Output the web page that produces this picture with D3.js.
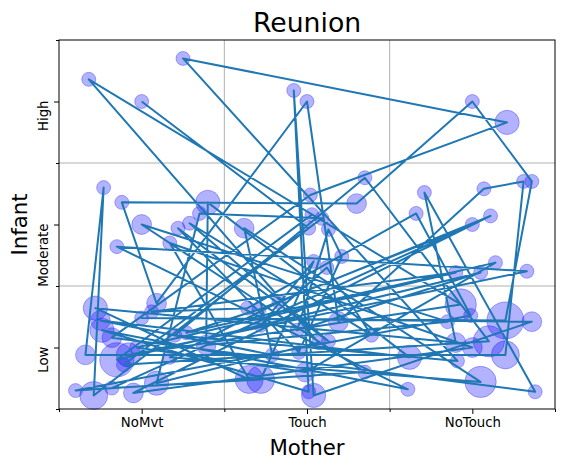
<!DOCTYPE html>
<html>
<head>
<meta charset="utf-8">
<script src="https://cdn.jsdelivr.net/npm/d3@7"></script>
<style>
  body { margin: 0; background: #fff; }
  svg { font-family: "DejaVu Sans", sans-serif; }
</style>
</head>
<body>
<svg id="chart" width="565" height="469"></svg>
<script>
// categories
const motherCats = ["NoMvt", "Touch", "NoTouch"];
const infantCats = ["Low", "Moderate", "High"];

// jittered positions (1 = first category), in visiting order
const motherPos = [1.00, 2.01, 0.71, 0.77, 0.66, 3.20, 3.31, 3.07, 2.19, 2.00,
  1.09, 0.88, 2.30, 3.00, 3.36, 3.20, 1.00, 3.36, 2.04, 1.92,
  2.01, 0.76, 2.61, 0.85, 3.33, 0.92, 2.93, 0.68, 2.07, 1.09,
  1.35, 2.09, 0.89, 3.10, 2.35, 1.20, 2.91, 1.25, 3.21, 2.02,
  0.82, 3.38, 2.71, 2.90, 0.72, 1.65, 1.17, 3.00, 0.95, 3.11,
  1.83, 1.17, 3.05, 1.62, 1.79, 0.75, 2.62, 1.40, 1.39, 2.85,
  1.00, 2.35, 0.60, 2.99, 2.66, 1.64, 1.06, 2.90, 0.97, 1.99,
  3.14, 1.27, 1.71, 3.00, 0.82, 1.72, 2.04, 1.72, 2.12, 2.39,
  1.29, 2.13, 1.22, 1.95, 2.21, 2.13, 1.94, 3.05, 0.85, 2.03];
const infantPos = [3.00, 1.97, 0.61, 2.30, 0.94, 0.94, 2.35, 2.29, 1.21, 3.00,
  1.36, 2.18, 2.17, 3.00, 2.35, 1.22, 1.24, 1.21, 0.61, 3.09,
  0.64, 1.14, 0.66, 1.82, 1.62, 0.94, 1.35, 3.18, 1.04, 0.71,
  2.09, 2.05, 0.86, 1.05, 2.38, 1.10, 0.89, 3.35, 2.83, 2.24,
  1.08, 0.64, 2.26, 1.04, 1.32, 0.74, 1.85, 1.00, 0.63, 2.07,
  1.37, 0.92, 0.72, 1.97, 0.94, 1.22, 0.92, 2.18, 1.02, 1.21,
  2.00, 0.80, 0.65, 1.26, 2.09, 1.32, 1.29, 1.61, 1.00, 0.80,
  1.69, 1.12, 1.31, 2.00, 0.67, 0.74, 1.70, 1.18, 1.65, 1.10,
  2.01, 1.05, 1.97, 0.96, 1.74, 1.96, 1.14, 1.61, 0.90, 2.08];
const counts = [1, 1, 4, 1, 2, 4, 1, 1, 2, 1,
  2, 1, 2, 1, 1, 7, 1, 2, 3, 1,
  1, 3, 1, 1, 1, 3, 5, 1, 1, 3,
  1, 1, 1, 5, 1, 1, 1, 1, 3, 1,
  2, 1, 1, 2, 3, 4, 1, 2, 2, 1,
  1, 1, 5, 2, 1, 2, 3, 3, 2, 1,
  2, 1, 1, 1, 1, 1, 1, 1, 1, 2,
  1, 1, 1, 1, 1, 4, 1, 1, 1, 1,
  1, 1, 1, 1, 1, 1, 1, 1, 6, 1];

const points = motherPos.map((m, i) => ({ x: m, y: infantPos[i], n: counts[i] }));

const svg = d3.select("#chart");
const plotLeft = 59, plotRight = 555, plotTop = 40, plotBottom = 409;

const x = d3.scaleLinear().domain([0.5, 3.5]).range([plotLeft, plotRight]);
const y = d3.scaleLinear().domain([0.5, 3.5]).range([plotBottom, plotTop]);
const r = d3.scaleSqrt().domain([0, 7]).range([0, 7 * Math.sqrt(7)]);

const bounds = [0.5, 1.5, 2.5, 3.5];
const centers = [1, 2, 3];

// grid on category boundaries
svg.append("g").selectAll("line")
  .data([1.5, 2.5]).enter().append("line")
  .attr("x1", d => x(d)).attr("x2", d => x(d))
  .attr("y1", plotTop).attr("y2", plotBottom)
  .attr("stroke", "#b0b0b0").attr("stroke-width", 1);
svg.append("g").selectAll("line")
  .data([1.5, 2.5]).enter().append("line")
  .attr("y1", d => y(d)).attr("y2", d => y(d))
  .attr("x1", plotLeft).attr("x2", plotRight)
  .attr("stroke", "#b0b0b0").attr("stroke-width", 1);

// bubbles
svg.append("g").selectAll("circle")
  .data(points).enter().append("circle")
  .attr("cx", d => x(d.x))
  .attr("cy", d => y(d.y))
  .attr("r", d => r(d.n))
  .attr("fill", "rgba(0,0,255,0.3)")
  .attr("stroke", "rgba(0,0,255,0.3)")
  .attr("stroke-width", 1);

// path through the points in order
const line = d3.line().x(d => x(d.x)).y(d => y(d.y));
svg.append("path")
  .datum(points)
  .attr("d", line)
  .attr("fill", "none")
  .attr("stroke", "#1f77b4")
  .attr("stroke-width", 2)
  .attr("stroke-linejoin", "round");

// frame
svg.append("rect")
  .attr("x", plotLeft).attr("y", plotTop)
  .attr("width", plotRight - plotLeft).attr("height", plotBottom - plotTop)
  .attr("fill", "none").attr("stroke", "#000").attr("stroke-width", 1);

// x axis ticks
const xMinor = d3.axisBottom(x).tickValues(bounds).tickSize(3).tickFormat("");
const xMajor = d3.axisBottom(x).tickValues(centers).tickSize(5).tickPadding(4)
  .tickFormat(d => motherCats[d - 1]);
const gx1 = svg.append("g").attr("transform", `translate(0,${plotBottom})`).call(xMinor);
const gx2 = svg.append("g").attr("transform", `translate(0,${plotBottom})`).call(xMajor);
[gx1, gx2].forEach(g => g.select(".domain").remove());
gx2.selectAll("text").attr("font-size", "13.3px").attr("font-family", "DejaVu Sans").attr("fill", "#000");

// y axis ticks
const yMinor = d3.axisLeft(y).tickValues(bounds).tickSize(3).tickFormat("");
const yMajor = d3.axisLeft(y).tickValues(centers).tickSize(5).tickFormat("");
const gy1 = svg.append("g").attr("transform", `translate(${plotLeft},0)`).call(yMinor);
const gy2 = svg.append("g").attr("transform", `translate(${plotLeft},0)`).call(yMajor);
[gy1, gy2].forEach(g => g.select(".domain").remove());
svg.selectAll(".tick line").attr("stroke", "#000");

// rotated y tick labels
svg.append("g").selectAll("text")
  .data(centers).enter().append("text")
  .attr("transform", d => `translate(48,${y(d) - 1}) rotate(-90)`)
  .attr("text-anchor", "end")
  .attr("font-size", "13.3px")
  .attr("fill", "#000")
  .text(d => infantCats[d - 1]);

// titles
svg.append("text")
  .attr("x", (plotLeft + plotRight) / 2).attr("y", 32)
  .attr("text-anchor", "middle")
  .attr("font-size", "26.7px")
  .text("Reunion");

svg.append("text")
  .attr("x", (plotLeft + plotRight) / 2).attr("y", 455)
  .attr("text-anchor", "middle")
  .attr("font-size", "21.3px")
  .text("Mother");

svg.append("text")
  .attr("transform", `translate(27,${(plotTop + plotBottom) / 2}) rotate(-90)`)
  .attr("text-anchor", "middle")
  .attr("font-size", "21.3px")
  .text("Infant");
</script>
</body>
</html>
